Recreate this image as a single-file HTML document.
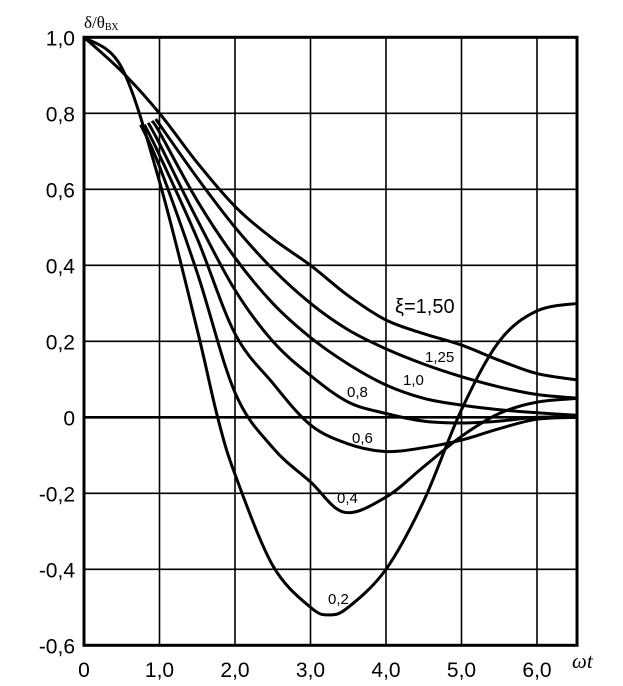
<!DOCTYPE html>
<html><head><meta charset="utf-8">
<style>
html,body{margin:0;padding:0;background:#fff;}
svg{display:block;}
text{font-family:"Liberation Sans",sans-serif;fill:#000;}
</style></head>
<body>
<svg id="chart" width="623" height="686" viewBox="0 0 623 686" xmlns="http://www.w3.org/2000/svg">
<g id="grid"></g>
<g id="curves"></g>
<g id="labels"></g>
<text x="84" y="28" style="font-family:'Liberation Serif',serif;font-size:17px">δ/θ<tspan font-size="10" dy="2">ВХ</tspan></text>
<text x="572" y="668" style="font-family:'Liberation Serif',serif;font-size:21px;font-style:italic">ωt</text>
</svg>
<script>
const xTicks = [0,1,2,3,4,5,6];
const xTickLabels = ["0","1,0","2,0","3,0","4,0","5,0","6,0"];
const yTicks = [1.0,0.8,0.6,0.4,0.2,0,-0.2,-0.4,-0.6];
const yTickLabels = ["1,0","0,8","0,6","0,4","0,2","0","-0,2","-0,4","-0,6"];
const seriesNames = ["1,50","1,25","1,0","0,8","0,6","0,4","0,2"];
const xs150 = [0,0.5,1,1.5,2,2.5,3,3.5,4,4.5,5,5.5,6,6.55];
const ys150 = [1,0.91,0.80,0.67,0.555,0.47,0.40,0.32,0.256,0.22,0.19,0.15,0.115,0.098];
const xs125 = [0.95,1.5,2,2.5,3,3.5,4,4.5,5,5.5,6,6.55];
const ys125 = [0.785,0.63,0.50,0.39,0.30,0.23,0.18,0.14,0.107,0.08,0.06,0.05];
const xs100 = [0.9,1,1.5,2,2.5,3,3.5,4,4.5,5,5.5,6,6.55];
const ys100 = [0.78,0.75,0.57,0.42,0.30,0.21,0.14,0.085,0.05,0.032,0.02,0.012,0.005];
const xs080 = [0.85,1,1.5,2,2.5,3,3.5,4,4.5,5,5.5,6,6.55];
const ys080 = [0.775,0.72,0.52,0.335,0.20,0.11,0.04,0.01,-0.01,-0.015,-0.01,0,0];
const xs060 = [0.8,1,1.5,2,2.5,3,3.5,4,4.5,5,5.5,6,6.55];
const ys060 = [0.77,0.69,0.47,0.22,0.09,-0.02,-0.07,-0.09,-0.08,-0.06,-0.03,-0.005,0];
const xs040 = [0.75,1,1.5,2,2.5,3,3.45,4,4.5,5,5.5,6,6.55];
const ys040 = [0.77,0.66,0.38,0.065,-0.08,-0.17,-0.25,-0.21,-0.13,-0.05,0.01,0.04,0.05];
const xs020 = [0,0.5,1,1.5,1.77,2,2.5,3,3.25,3.5,4,4.5,5,5.5,6,6.55];
const ys020 = [1,0.92,0.62,0.23,0,-0.15,-0.39,-0.50,-0.52,-0.50,-0.40,-0.22,0.02,0.20,0.28,0.30];

const X0=84, XU=75.5, XMAX=6.53, Y0=417.3, YU=380;
function sx(v){return X0+v*XU;}
function sy(v){return Y0-v*YU;}
const NS="http://www.w3.org/2000/svg";
function mk(tag,attrs,parent){const e=document.createElementNS(NS,tag);for(const k in attrs)e.setAttribute(k,attrs[k]);parent.appendChild(e);return e;}
const grid=document.getElementById('grid'), curves=document.getElementById('curves'), labels=document.getElementById('labels');
const L=sx(0), R=sx(XMAX), T=sy(1.0), B=sy(-0.6);
xTicks.forEach((t,i)=>{
  if(i>0){const ln=mk('line',{x1:sx(t),x2:sx(t),y1:T,y2:B,stroke:'#000','stroke-width':1.6},grid);
  
  }
  const tx=mk('text',{x:sx(t),y:677,'text-anchor':'middle','font-size':21},labels);
  tx.textContent=xTickLabels[i];
  
  
});
yTicks.forEach((t,i)=>{
  const ln=mk('line',{x1:L,x2:R,y1:sy(t),y2:sy(t),stroke:'#000','stroke-width':t===0?2.6:1.6},grid);
  
  
  const tx=mk('text',{x:75,y:sy(t)+8,'text-anchor':'end','font-size':21},labels);
  tx.textContent=yTickLabels[i];
  
  
});
const fr=mk('rect',{x:L,y:T,width:R-L,height:B-T,fill:'none',stroke:'#000','stroke-width':3},grid);


function pathFor(xs,ys){
  const p=xs.map((x,i)=>[sx(x),sy(ys[i])]);
  let d='M'+p[0][0]+','+p[0][1];
  for(let i=0;i<p.length-1;i++){
    const p0=p[i-1]||p[i],p1=p[i],p2=p[i+1],p3=p[i+2]||p2;
    const c1=[p1[0]+(p2[0]-p0[0])/6,p1[1]+(p2[1]-p0[1])/6];
    const c2=[p2[0]-(p3[0]-p1[0])/6,p2[1]-(p3[1]-p1[1])/6];
    d+=' C'+c1[0]+','+c1[1]+' '+c2[0]+','+c2[1]+' '+p2[0]+','+p2[1];
  }
  return d;
}
const all=[[xs150,ys150],[xs125,ys125],[xs100,ys100],[xs080,ys080],[xs060,ys060],[xs040,ys040],[xs020,ys020]];
const names=['curve-xi-1-50','curve-xi-1-25','curve-xi-1-0','curve-xi-0-8','curve-xi-0-6','curve-xi-0-4','curve-xi-0-2'];
all.forEach((s,i)=>{
  const pth=mk('path',{d:pathFor(s[0],s[1]),fill:'none',stroke:'#000','stroke-width':3,'stroke-linejoin':'round'},curves);
  
  
});
const lab=[["ξ=1,50",395,313,20,'label-xi-1-50'],["1,25",425,362,15,'label-xi-1-25'],["1,0",403,385,15,'label-xi-1-0'],["0,8",347,397,15,'label-xi-0-8'],["0,6",352,443,15,'label-xi-0-6'],["0,4",337,503,15,'label-xi-0-4'],["0,2",328,604,15,'label-xi-0-2']];
lab.forEach(l=>{
  const t=mk('text',{x:l[1],y:l[2],'font-size':l[3]},labels);
  t.textContent=l[0];
  
  
});
</script>
</body></html>
